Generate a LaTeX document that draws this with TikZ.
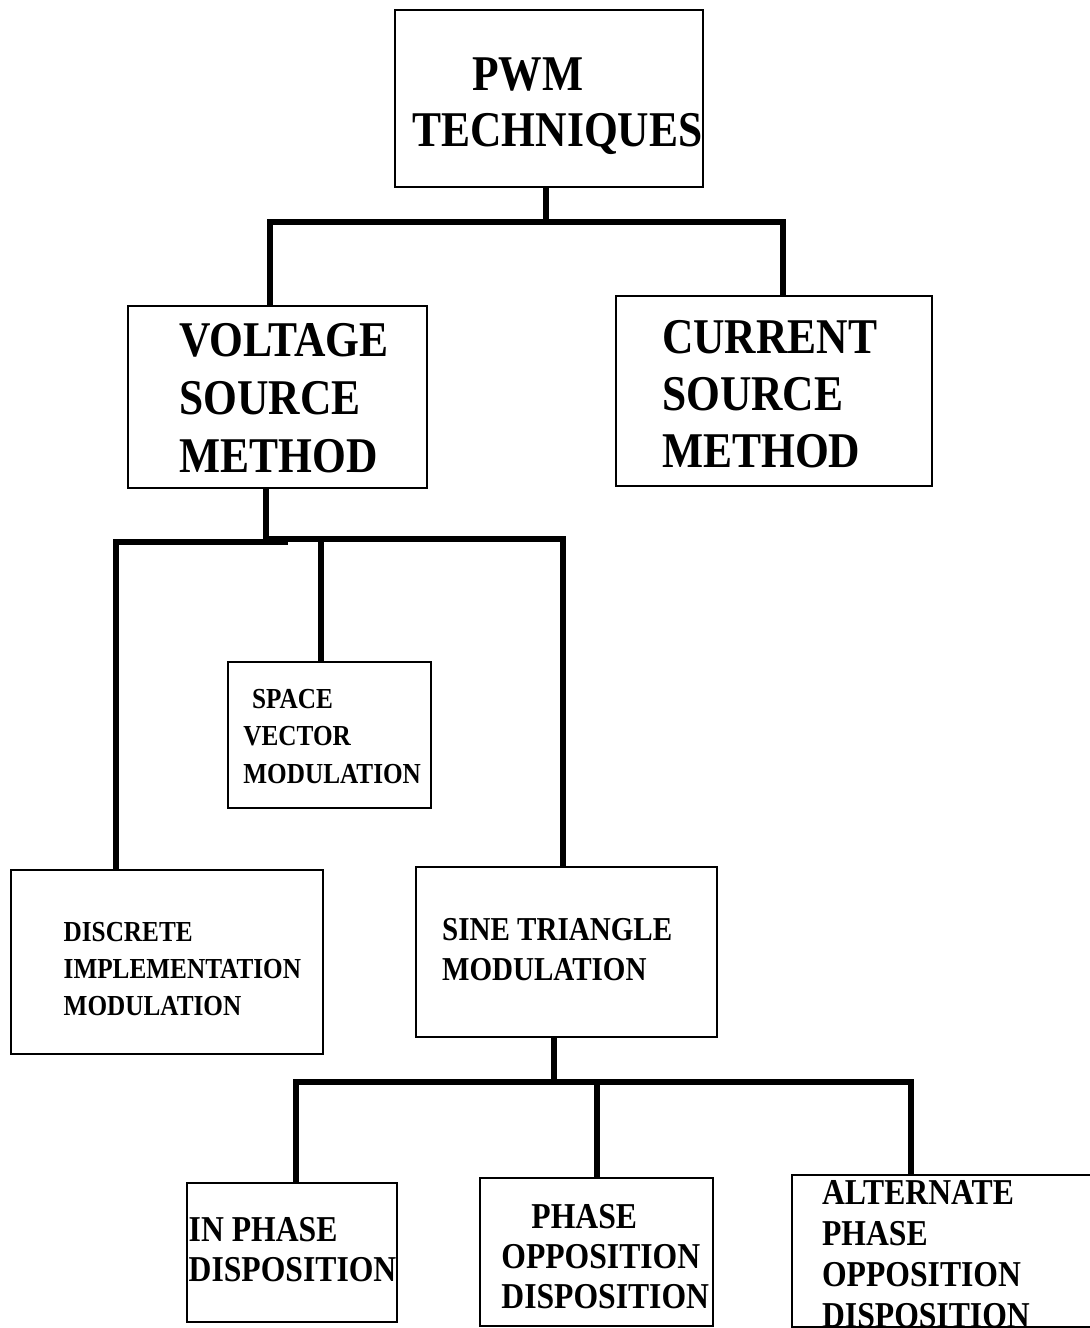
\documentclass[tikz,border=0pt]{standalone}
\usepackage{fontspec}
\setmainfont{Liberation Serif}[FakeStretch=0.87]
\usepackage{tikz}
\usetikzlibrary{positioning}
\newcommand\lblfont[2]{\bfseries\fontsize{#1}{#2}\selectfont}

\begin{document}
\begin{tikzpicture}[x=0.5pt,y=-0.5pt,
  blk/.style={draw,line width=0.9pt,inner sep=0pt},
  lbl/.style={anchor=base west,align=left,inner sep=0pt},
  conn/.style={line width=3.2pt,line join=miter}]
  \useasboundingbox (0,0) rectangle (1090,1328);
  \clip (0,0) rectangle (1090,1328);
  % Level: top
  \node[blk,minimum width=154pt,minimum height=88.5pt] (pwm) at (549,98.5) {};
  \node[lbl,font=\lblfont{25}{28}] (pwmtxt) at (412,146.7) {\hspace*{30pt}PWM\\TECHNIQUES};
  % Level: source method
  \node[blk,minimum width=149.5pt,minimum height=91pt] (vsm) at (277.5,397) {};
  \node[lbl,font=\lblfont{25}{29}] (vsmtxt) at (179,472.7) {VOLTAGE\\SOURCE\\METHOD};
  \node[blk,minimum width=158pt,minimum height=95pt] (csm) at (774,391) {};
  \node[lbl,font=\lblfont{25}{28.5}] (csmtxt) at (661.7,467) {CURRENT\\SOURCE\\METHOD};
  % Level: modulation
  \node[blk,minimum width=101.5pt,minimum height=73pt] (svm) at (329.5,735) {};
  \node[lbl,font=\lblfont{14.5}{18.75}] (svmtxt) at (243,783) {\hspace*{4.3pt}SPACE\\VECTOR\\MODULATION};
  \node[blk,minimum width=156pt,minimum height=92pt] (dim) at (167,962) {};
  \node[lbl,font=\lblfont{14.5}{18.3}] (dimtxt) at (63.3,1015) {DISCRETE\\IMPLEMENTATION\\MODULATION};
  \node[blk,minimum width=150.5pt,minimum height=85pt] (stm) at (566.5,952) {};
  \node[lbl,font=\lblfont{16.7}{19.6}] (stmtxt) at (441.7,980) {SINE TRIANGLE\\MODULATION};
  % Level: disposition
  \node[blk,minimum width=105pt,minimum height=69.5pt] (ipd) at (292,1252.5) {};
  \node[lbl,font=\lblfont{18.2}{20}] (ipdtxt) at (188.3,1281.7) {IN PHASE\\DISPOSITION};
  \node[blk,minimum width=116.5pt,minimum height=74pt] (pod) at (596.5,1252) {};
  \node[lbl,font=\lblfont{18.2}{20}] (podtxt) at (501,1308.3) {\hspace*{15pt}PHASE\\OPPOSITION\\DISPOSITION};
  \node[blk,minimum width=151.5pt,minimum height=76pt] (apod) at (943.5,1251) {};
  \node[lbl,font=\lblfont{18.2}{20.5}] (apodtxt) at (821.7,1327.7) {ALTERNATE\\PHASE\\OPPOSITION\\DISPOSITION};
  % connectors
  \coordinate (j1) at (546,222);
  \coordinate (b1l) at (270,222);
  \coordinate (b1r) at (783,222);
  \draw[conn] (pwm.south -| j1) -- (j1);
  \draw[conn] (vsm.north -| b1l) -- (b1l) -- (b1r) -- (csm.north -| b1r);
  \coordinate (j2) at (266,539);
  \coordinate (b2l) at (116,542);
  \coordinate (b2m) at (288,542);
  \coordinate (b2c) at (321,539);
  \coordinate (b2r) at (563,539);
  \draw[conn] (vsm.south -| j2) -- (j2);
  \draw[conn] (dim.north -| b2l) -- (b2l) -- (b2m);
  \draw[conn] (j2) -- (b2r) -- (stm.north -| b2r);
  \draw[conn] (b2c) -- (svm.north -| b2c);
  \coordinate (j3) at (554,1082);
  \coordinate (b3l) at (296,1082);
  \coordinate (b3c) at (597,1082);
  \coordinate (b3r) at (911,1082);
  \draw[conn] (stm.south -| j3) -- (j3);
  \draw[conn] (ipd.north -| b3l) -- (b3l) -- (b3r) -- (apod.north -| b3r);
  \draw[conn] (b3c) -- (pod.north -| b3c);
\end{tikzpicture}
\end{document}
